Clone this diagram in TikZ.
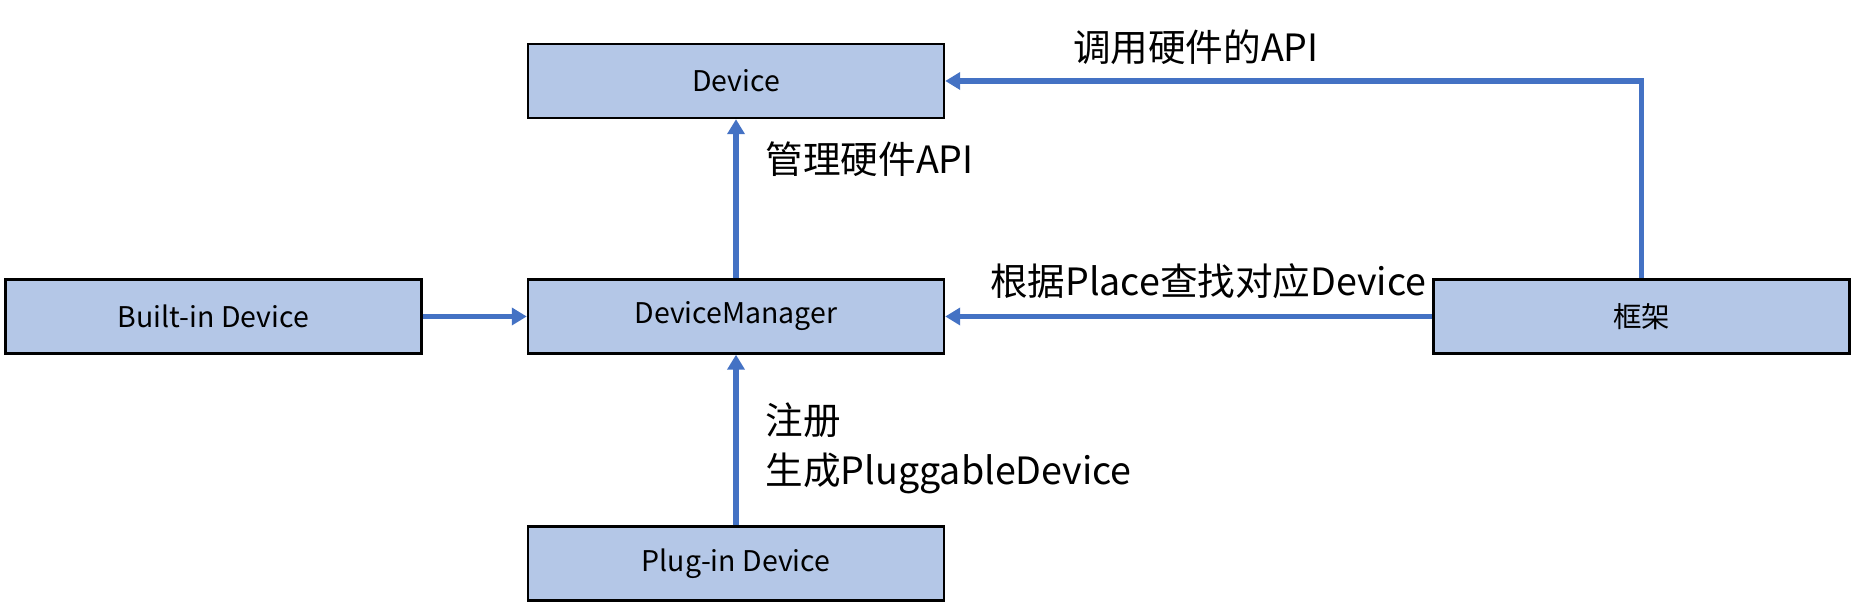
\documentclass[tikz,border=0pt]{standalone}
\usepackage{fontspec}
\setmainfont{Noto Sans CJK SC}
\usetikzlibrary{arrows.meta,positioning,calc}

\definecolor{boxfill}{HTML}{B4C7E7}
\definecolor{linkblue}{HTML}{4472C4}

\begin{document}
\begin{tikzpicture}[
    module/.style={draw=black, line width=0.7pt, fill=boxfill, minimum width=4.16cm, minimum height=0.74cm, inner sep=0pt, font=\fontsize{8.1pt}{10pt}\selectfont},
    link/.style={draw=linkblue, line width=1.5pt, -{Triangle[width=0.17cm,length=0.15cm]}},
    note/.style={font=\fontsize{10.7pt}{14.2pt}\selectfont, inner sep=0pt}
]
\useasboundingbox (0,0) rectangle (18.58,6.10);

% 模块
\node[module] (device) at (7.36,5.29) {Device};
\node[module] (manager) at (7.36,2.935) {DeviceManager};
\node[module] (builtin) at (2.135,2.935) {Built-in Device};
\node[module] (framework) at (16.415,2.935) {框架};
\node[module] (plugin) at (7.36,0.465) {Plug-in Device};

% 连接
\draw[link] (builtin) -- (manager);
\draw[link] (manager) -- (device) node[note, pos=0.75, right=0.27cm] {管理硬件API};
\draw[link] (plugin) -- (manager) node[note, pos=0.45, right=0.27cm, align=left] {注册\\生成PluggableDevice};
\draw[link] (framework) -- (manager) node[note, pos=0.46, above=0.15cm] {根据Place查找对应Device};
\draw[link] (framework.north) |- (device) node[note, pos=0.82, above=0.14cm] {调用硬件的API};
\end{tikzpicture}
\end{document}
